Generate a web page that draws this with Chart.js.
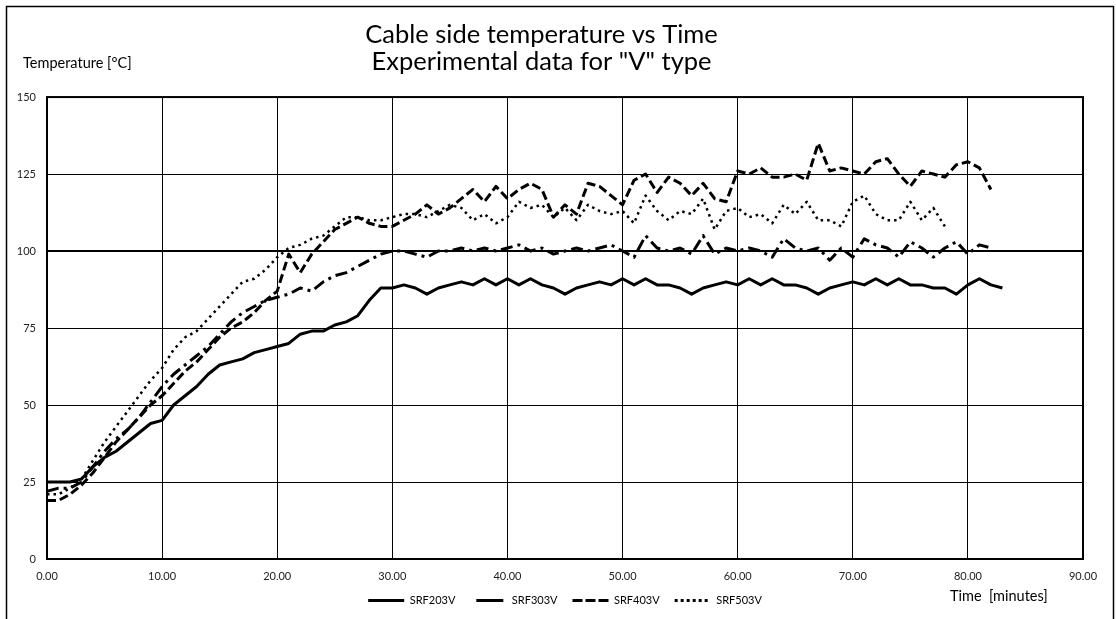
<!DOCTYPE html>
<html>
<head>
<meta charset="utf-8">
<script src="https://cdn.jsdelivr.net/npm/chart.js@4/dist/chart.umd.min.js"></script>
<style>
html,body{margin:0;padding:0;background:#fff}
</style>
</head>
<body>
<canvas id="chart" width="1116" height="619"></canvas>
<script>

// time in minutes, one reading per minute
const times=[]
for(let t=0;t<=83;t++) times.push(t)

const seriesNames=["SRF203V","SRF303V","SRF403V","SRF503V"]

const srf203=[
25,25,25,26,30,33,35,38,41,44,
45,50,53,56,60,63,64,65,67,68,
69,70,73,74,74,76,77,79,84,88,
88,89,88,86,88,89,90,89,91,89,
91,89,91,89,88,86,88,89,90,89,
91,89,91,89,89,88,86,88,89,90,
89,91,89,91,89,89,88,86,88,89,
90,89,91,89,91,89,89,88,88,86,
89,91,89,88]

const srf303=[
22,23,23,25,30,35,39,42,46,51,
56,60,63,66,69,73,77,80,82,84,
85,86,88,87,90,92,93,95,97,99,
100,100,99,98,100,100,101,100,101,100,
101,102,100,101,99,100,101,100,101,102,
100,98,105,101,100,101,99,105,99,101,
100,101,100,98,104,101,100,101,97,101,
98,104,102,101,98,103,101,98,101,103,
99,102,101,null]

const srf403=[
19,19,21,24,28,33,38,42,46,50,
53,57,61,64,68,72,75,77,80,84,
87,99,93,99,103,107,109,111,109,108,
108,110,112,115,112,114,117,120,116,121,
117,120,122,120,111,115,112,122,121,118,
115,123,125,119,124,122,118,122,117,116,
126,125,127,124,124,125,123,135,126,127,
126,125,129,130,125,121,126,125,124,128,
129,127,120,null]

const srf503=[
21,21,23,26,32,38,43,48,53,58,
62,68,72,74,78,82,86,90,91,94,
98,101,102,104,105,108,111,111,110,110,
111,112,112,111,113,115,114,110,112,109,
111,116,114,115,111,114,110,115,113,112,
113,109,118,113,110,113,112,117,107,113,
114,111,112,109,115,112,116,110,110,108,
116,118,112,110,110,116,110,114,108,null,
null,null,null,null]

const yTicks=[0,25,50,75,100,125,150]
const xTicks=[0,10,20,30,40,50,60,70,80,90]

const FONT="Lato"

// dash used for the little legend samples
const legendDash=[[],[0,6,27,10],[10,3],[3,3]]

function pts(vals){
return times.map((t,i)=>({x:t,y:vals[i]}))
}

const extras={
id:"extras",
beforeDraw(chart){
const c=chart.ctx
c.save()
c.fillStyle="#fff"
c.fillRect(0,0,chart.width,chart.height)
c.strokeStyle="#000"
c.lineWidth=1.5
c.strokeRect(6.5,6.5,1107,700)
c.restore()
},
afterDraw(chart){
const c=chart.ctx
const a=chart.chartArea
c.save()
c.strokeStyle="#000"
c.lineWidth=2
c.strokeRect(a.left,a.top,a.right-a.left,a.bottom-a.top)
c.fillStyle="#000"
c.font="14.5px "+FONT
c.textBaseline="middle"
c.textAlign="left"
c.fillText("Temperature [°C]",23,63)
c.fillText("Time  [minutes]",950,596)
c.restore()
}
}

new Chart(document.getElementById("chart"),{
type:"line",
data:{
datasets:[
{label:seriesNames[0],data:pts(srf203),borderColor:"#000",borderWidth:3,borderDash:[]},
{label:seriesNames[1],data:pts(srf303),borderColor:"#000",borderWidth:3,borderDash:[12,5,3,5]},
{label:seriesNames[2],data:pts(srf403),borderColor:"#000",borderWidth:3,borderDash:[9,4]},
{label:seriesNames[3],data:pts(srf503),borderColor:"#000",borderWidth:2.5,borderDash:[2.5,4]}
]
},
options:{
responsive:false,
animation:false,
devicePixelRatio:1,
spanGaps:false,
elements:{point:{radius:0},line:{tension:0,borderJoinStyle:"round"}},
layout:{padding:{left:0,right:33,top:0,bottom:3}},
plugins:{
title:{
display:true,
text:["Cable side temperature vs Time",'Experimental data for "V" type'],
color:"#000",
font:{family:FONT,size:25.5,weight:"normal",lineHeight:1.06},
padding:{top:21,bottom:22}
},
legend:{
position:"bottom",
fullSize:false,
labels:{
color:"#000",
font:{family:FONT,size:11},
usePointStyle:true,
pointStyle:"line",
pointStyleWidth:36,
padding:15,
generateLabels(chart){
return chart.data.datasets.map((d,i)=>({
text:d.label,
fillStyle:"#000",
strokeStyle:"#000",
fontColor:"#000",
lineWidth:3,
lineDash:legendDash[i],
lineCap:"butt",
pointStyle:"line",
hidden:false,
datasetIndex:i
}))
}
}
},
tooltip:{enabled:false}
},
scales:{
x:{
type:"linear",
min:0,max:90,
afterBuildTicks(s){s.ticks=xTicks.map(v=>({value:v}))},
afterFit(s){s.height=21},
grid:{color:"#000",lineWidth:1,drawTicks:false},
border:{display:false},
ticks:{color:"#222",font:{family:FONT,size:11},padding:11,
callback:v=>Number(v).toFixed(2).replace(".",",")}
},
y:{
min:0,max:150,
afterBuildTicks(s){s.ticks=yTicks.map(v=>({value:v}))},
afterFit(s){s.width=47},
grid:{color:"#000",lineWidth:c=>c.tick&&c.tick.value===100?2:1,drawTicks:false},
border:{display:false},
ticks:{color:"#222",font:{family:FONT,size:11},padding:11}
}
}
},
plugins:[extras]
})

</script>
</body>
</html>
